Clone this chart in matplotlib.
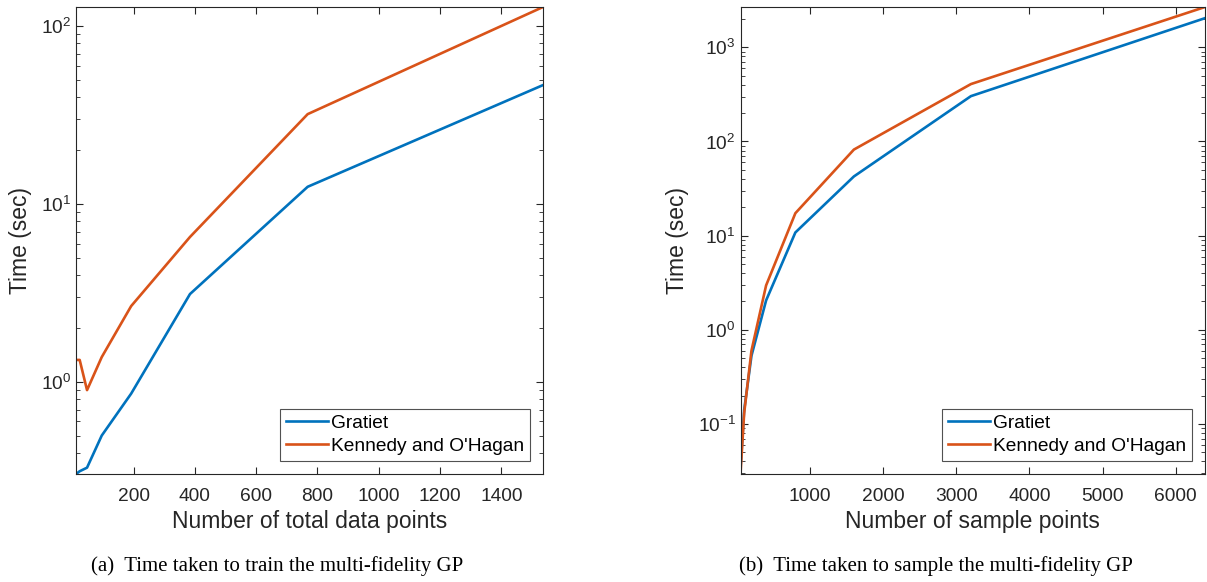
import numpy as np
import matplotlib
matplotlib.use("Agg")
import matplotlib.pyplot as plt
from matplotlib.ticker import LogLocator, NullFormatter

# Data
train_points = [12, 24, 48, 96, 192, 384, 768, 1536]
train_gratiet = [0.304, 0.315, 0.33, 0.50, 0.86, 3.12, 12.5, 46.6]
train_koh = [1.33, 1.33, 0.90, 1.38, 2.67, 6.53, 32.0, 128.0]

sample_points = [50, 100, 200, 400, 800, 1600, 3200, 6400]
sample_gratiet = [0.034, 0.14, 0.53, 2.05, 10.8, 42.5, 303.0, 2040.0]
sample_koh = [0.0294, 0.13, 0.60, 2.96, 17.3, 82.0, 407.0, 2680.0]

series_labels = ["Gratiet", "Kennedy and O'Hagan"]
xlabels = ["Number of total data points", "Number of sample points"]
ylabel = "Time (sec)"
captions = ["(a)  Time taken to train the multi-fidelity GP",
            "(b)  Time taken to sample the multi-fidelity GP"]

BLUE = "#0072BD"
ORANGE = "#D95319"
AXC = "#262626"

plt.rcParams['font.family'] = ['Liberation Sans', 'DejaVu Sans']
plt.rcParams['mathtext.fontset'] = 'custom'
plt.rcParams['mathtext.rm'] = 'Liberation Sans'

W, H = 1207, 582
fig = plt.figure(figsize=(W / 100, H / 100), dpi=100)

def px_axes(x0, x1, y0, y1):
    return fig.add_axes([x0 / W, (H - y1) / H, (x1 - x0) / W, (y1 - y0) / H])

ax1 = px_axes(76, 543, 7, 474)
ax2 = px_axes(740.5, 1205, 7, 474)

def style(ax, xs, g, k, xlab, xticks, ylim):
    ax.plot(xs, g, color=BLUE, lw=1.9, label=series_labels[0])
    ax.plot(xs, k, color=ORANGE, lw=1.9, label=series_labels[1])
    ax.set_yscale('log')
    ax.set_xlim(xs[0], xs[-1])
    ax.set_ylim(*ylim)
    ax.set_xticks(xticks)
    ax.set_xticklabels([str(t) for t in xticks])
    ax.yaxis.set_minor_locator(LogLocator(base=10, subs=np.arange(2, 10), numticks=20))
    ax.yaxis.set_minor_formatter(NullFormatter())
    for s in ax.spines.values():
        s.set_color(AXC)
        s.set_linewidth(0.8)
    ax.tick_params(which='both', direction='in', top=True, right=True, colors=AXC,
                   labelsize=13.8, labelcolor=AXC)
    ax.tick_params(which='major', length=5, width=0.8)
    ax.tick_params(which='minor', length=3, width=0.6)
    ax.tick_params(axis='x', pad=10)
    ax.set_xlabel(xlab, fontsize=16.5, color=AXC, labelpad=4)
    ax.set_ylabel(ylabel, fontsize=16.5, color=AXC, labelpad=6)
    leg = ax.legend(loc='lower right', fontsize=13.8, frameon=True, fancybox=False,
                    edgecolor=AXC, borderaxespad=0.7, handlelength=2.2,
                    handletextpad=0.15, labelspacing=0.3, borderpad=0.3)
    leg.get_frame().set_linewidth(0.8)

style(ax1, train_points, train_gratiet, train_koh, xlabels[0],
      [200, 400, 600, 800, 1000, 1200, 1400], (0.304, 128))
style(ax2, sample_points, sample_gratiet, sample_koh, xlabels[1],
      [1000, 2000, 3000, 4000, 5000, 6000], (0.0294, 2680))

fig.text(277.5 / W, 1 - 566 / H, captions[0], ha='center', va='center',
         fontsize=15, family=['Liberation Serif'], color='black')
fig.text(936 / W, 1 - 566 / H, captions[1], ha='center', va='center',
         fontsize=15, family=['Liberation Serif'], color='black')

fig.savefig("out.png", dpi=100)
